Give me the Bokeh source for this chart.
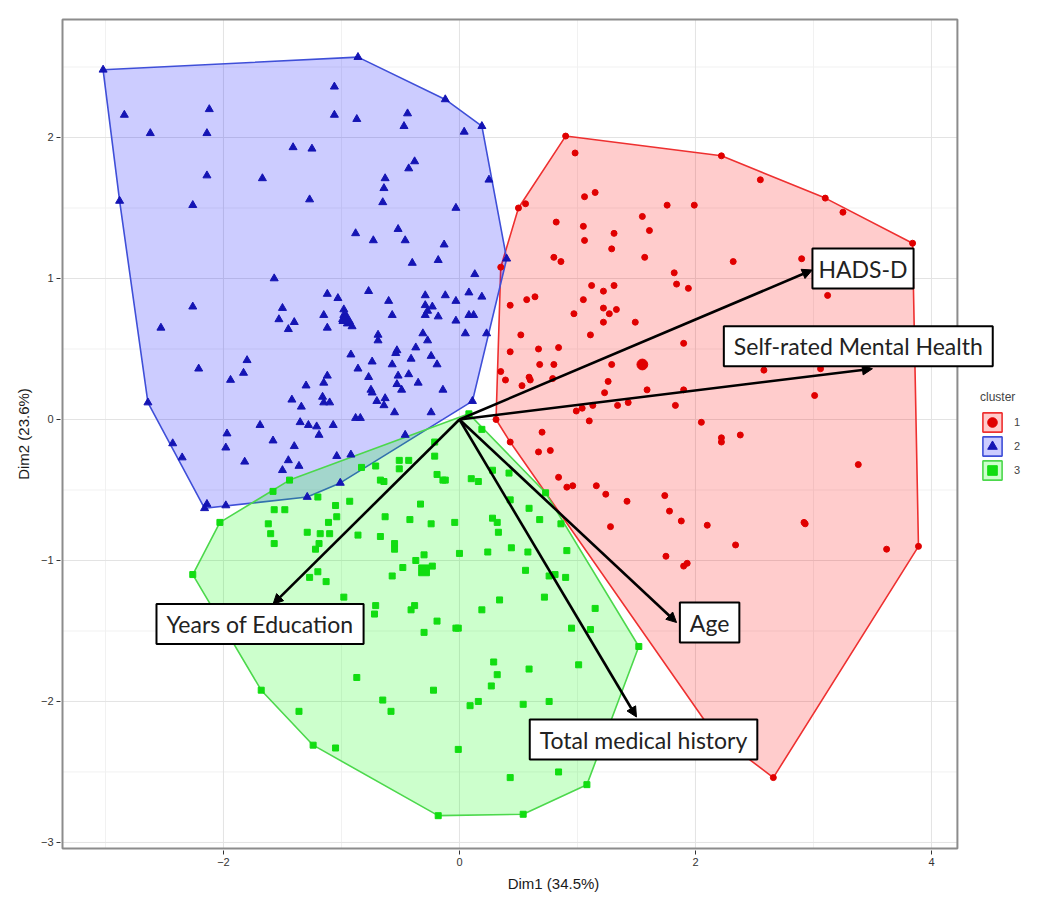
from bokeh.plotting import figure
from bokeh.models import (Arrow, NormalHead, Label, Legend, LegendItem, FixedTicker,
                          Range1d, ColumnDataSource)
from bokeh.embed import file_html
from bokeh.resources import INLINE

# ---------------- data ----------------
cluster1 = [  # red circles
    (0.90, 2.01), (0.98, 1.89), (1.15, 1.61), (1.06, 1.58), (0.56, 1.53), (0.50, 1.50),
    (0.82, 1.40), (1.05, 1.37), (1.55, 1.44), (1.61, 1.34), (1.31, 1.32), (1.06, 1.27),
    (1.29, 1.21), (0.80, 1.15), (0.86, 1.12), (1.57, 1.15), (0.35, 1.08), (1.12, 0.95),
    (1.22, 0.91), (1.31, 0.95), (0.64, 0.87), (0.57, 0.85), (1.05, 0.85),
    (2.22, 1.87), (2.55, 1.70), (3.10, 1.57), (3.25, 1.47), (3.84, 1.25), (1.76, 1.52),
    (1.99, 1.52), (2.32, 1.12), (2.90, 1.14), (1.82, 1.04), (1.84, 0.96), (1.94, 0.93),
    (3.12, 0.88),
    (0.43, 0.81), (0.97, 0.75), (1.22, 0.79), (1.27, 0.75), (1.33, 0.78), (1.22, 0.69),
    (1.49, 0.69), (0.52, 0.60), (1.11, 0.60), (0.67, 0.50), (0.84, 0.51), (0.43, 0.48),
    (0.68, 0.39), (0.80, 0.39), (1.29, 0.39), (0.35, 0.34), (0.39, 0.28), (0.59, 0.30),
    (0.60, 0.28), (0.53, 0.24), (0.79, 0.29), (1.26, 0.27), (1.23, 0.19), (1.59, 0.21),
    (0.99, 0.06), (1.04, 0.08), (1.13, 0.10), (1.34, 0.10), (1.43, 0.12), (1.10, -0.01),
    (0.31, 0.00), (0.70, -0.09), (0.43, -0.16), (0.67, -0.23), (0.77, -0.22), (0.84, -0.41),
    (0.91, -0.48), (0.96, -0.47), (1.16, -0.47), (1.24, -0.53), (1.42, -0.58), (1.28, -0.76),
    (1.90, 0.54), (2.64, 0.61), (2.94, 0.60), (2.77, 0.48), (2.58, 0.35), (3.06, 0.36),
    (1.90, 0.21), (1.83, 0.10), (3.01, 0.17), (2.05, -0.02), (2.22, -0.13), (2.22, -0.16),
    (2.38, -0.11), (3.38, -0.32), (1.74, -0.54), (1.78, -0.65), (1.88, -0.72), (2.10, -0.75),
    (2.92, -0.73), (2.93, -0.74), (2.34, -0.89), (3.62, -0.92), (1.75, -0.97), (1.90, -1.04),
    (1.93, -1.02), (3.89, -0.90), (2.66, -2.54), (2.14, -2.21),
]
cluster2 = [  # blue triangles
    (-3.02, 2.48), (-0.86, 2.57), (-1.06, 2.36), (-2.84, 2.16), (-2.12, 2.20), (-2.62, 2.03),
    (-2.14, 2.03), (-1.06, 2.16), (-0.87, 2.13), (-1.41, 1.93), (-1.25, 1.92), (-2.14, 1.73),
    (-1.67, 1.71), (-2.88, 1.55), (-2.26, 1.52), (-1.27, 1.56), (-0.88, 1.32), (-1.57, 1.00),
    (-1.12, 0.89), (-1.03, 0.86),
    (-0.12, 2.27), (0.19, 2.08), (0.25, 1.70), (0.40, 1.14), (-0.44, 2.17), (-0.47, 2.08),
    (0.04, 2.04), (-0.38, 1.83), (-0.43, 1.78), (-0.63, 1.71), (-0.64, 1.64), (-0.65, 1.54),
    (-0.03, 1.50), (-0.52, 1.35), (-0.73, 1.27), (-0.46, 1.27), (-0.13, 1.24), (-0.40, 1.11),
    (-0.18, 1.13), (0.13, 1.03), (-0.77, 0.91), (-0.29, 0.88), (-0.12, 0.88), (0.08, 0.90),
    (0.19, 0.87), (-0.60, 0.84), (-0.03, 0.84),
    (-2.26, 0.80), (-2.53, 0.65), (-1.50, 0.79), (-1.53, 0.71), (-1.40, 0.69), (-1.45, 0.64),
    (-1.15, 0.74), (-1.12, 0.65), (-0.98, 0.78), (-0.98, 0.74), (-0.97, 0.70), (-0.95, 0.68),
    (-0.91, 0.66), (-0.99, 0.71), (-0.92, 0.46), (-0.86, 0.36), (-1.80, 0.42), (-2.21, 0.36),
    (-1.83, 0.33), (-1.94, 0.28), (-1.12, 0.31), (-1.15, 0.26), (-1.30, 0.24), (-1.42, 0.14),
    (-1.34, 0.09), (-1.16, 0.16), (-1.15, 0.12), (-1.10, 0.12), (-2.64, 0.12), (-0.88, 0.01),
    (-0.84, 0.01), (-1.69, -0.04), (-1.35, -0.02), (-1.28, -0.04), (-1.21, -0.05), (-1.07, -0.04),
    (-1.19, -0.11), (-1.97, -0.10), (-1.98, -0.20), (-1.58, -0.15), (-1.40, -0.19), (-2.43, -0.17),
    (-2.35, -0.27), (-1.82, -0.30), (-1.45, -0.29), (-1.36, -0.33), (-1.50, -0.36), (-1.04, -0.26),
    (-0.92, -0.25), (-1.01, -0.45), (-1.29, -0.55), (-1.98, -0.61), (-2.14, -0.60), (-2.16, -0.63),
    (-0.29, 0.81), (-0.23, 0.80), (-0.27, 0.77), (-0.29, 0.74), (-0.57, 0.74), (-0.18, 0.73),
    (-0.03, 0.70), (0.08, 0.74), (0.12, 0.74), (-0.69, 0.60), (-0.69, 0.56), (-0.31, 0.61),
    (-0.27, 0.56), (0.05, 0.61), (0.23, 0.61), (-0.37, 0.51), (-0.53, 0.49), (-0.54, 0.47),
    (-0.24, 0.45), (-0.41, 0.43), (-0.74, 0.41), (-0.57, 0.39), (-0.19, 0.39), (-0.77, 0.30),
    (-0.52, 0.31), (-0.43, 0.32), (-0.53, 0.25), (-0.49, 0.21), (-0.35, 0.26), (-0.14, 0.21),
    (-0.75, 0.21), (-0.74, 0.19), (-0.70, 0.13), (-0.63, 0.15), (-0.64, 0.10), (-0.55, 0.05),
    (-0.24, 0.05), (0.11, 0.13), (-0.46, -0.11),
]
cluster3 = [  # green squares
    (-1.44, -0.43), (-1.58, -0.51), (-0.83, -0.34), (-1.20, -0.55), (-0.93, -0.58), (-1.05, -0.61),
    (-1.57, -0.64), (-1.48, -0.64), (-1.04, -0.69), (-1.11, -0.73), (-2.03, -0.73), (-1.62, -0.74),
    (-1.60, -0.81), (-1.29, -0.80), (-1.18, -0.81), (-1.10, -0.81), (-0.86, -0.82), (-1.57, -0.88),
    (-1.19, -0.88), (-1.22, -0.92), (-1.20, -1.08), (-1.27, -1.12), (-2.26, -1.10),
    (0.08, 0.04), (0.19, -0.07), (-0.21, -0.16), (-0.21, -0.26), (-0.51, -0.29), (-0.43, -0.29),
    (-0.51, -0.35), (-0.71, -0.33), (0.28, -0.36), (0.42, -0.38), (-0.19, -0.39), (-0.67, -0.43),
    (-0.64, -0.44), (-0.14, -0.43), (-0.12, -0.43), (0.10, -0.42), (0.16, -0.44), (0.73, -0.52),
    (0.43, -0.57), (-0.33, -0.60), (0.59, -0.63), (-0.63, -0.69), (-0.42, -0.71), (-0.04, -0.73),
    (-0.24, -0.74), (0.28, -0.70), (0.32, -0.73), (0.33, -0.80), (0.68, -0.71), (0.86, -0.74),
    (-0.67, -0.83), (-0.55, -0.88), (-0.55, -0.92), (0.44, -0.91), (0.58, -0.94), (0.91, -0.93),
    (0.00, -0.95), (0.24, -0.94), (-0.37, -1.00), (-0.30, -0.96), (-0.23, -1.04), (-0.48, -1.05),
    (-0.57, -1.11), (0.56, -1.07), (0.81, -1.10), (0.90, -1.12), (0.76, -1.11),
    (-1.98, -1.39), (-1.13, -1.15), (-0.98, -1.26), (-1.20, -1.37), (-1.31, -1.48), (-1.29, -1.53),
    (-1.36, -1.57), (-0.87, -1.83), (-1.36, -2.07), (-1.05, -2.33), (-1.68, -1.92), (-1.24, -2.31),
    (-0.71, -1.32), (-0.72, -1.38), (-0.41, -1.35), (-0.38, -1.32), (-0.19, -1.43), (-0.30, -1.51),
    (-0.03, -1.48), (-0.01, -1.48), (0.19, -1.35), (0.34, -1.28), (0.72, -1.26), (1.15, -1.34),
    (0.95, -1.48), (1.11, -1.49), (0.29, -1.72), (0.32, -1.81), (0.27, -1.89), (0.59, -1.77),
    (1.01, -1.74), (-0.22, -1.92), (-0.65, -1.99), (-0.58, -2.07), (0.09, -2.03), (0.16, -2.00),
    (0.54, -2.02), (0.76, -2.00), (-0.01, -2.34), (0.43, -2.54), (0.84, -2.50), (1.08, -2.59),
    (0.54, -2.80), (-0.18, -2.81), (1.52, -1.61),
]
centers_x = [1.55, -0.96, -0.30]
centers_y = [0.39, 0.71, -1.07]
cluster_labels = ["1", "2", "3"]

var_names = ["HADS-D", "Self-rated Mental Health", "Age", "Total medical history", "Years of Education"]
var_x = [2.99, 3.50, 1.84, 1.50, -1.58]
var_y = [1.06, 0.36, -1.44, -2.11, -1.31]

x_ticks = [-2, 0, 2, 4]
x_minor = [-3, -1, 1, 3]
y_ticks = [-3, -2, -1, 0, 1, 2]
y_minor = [-2.5, -1.5, -0.5, 0.5, 1.5, 2.5]

# panel (ggplot plotting area) limits
PX0, PX1, PY0, PY1 = -3.364, 4.22, -3.043, 2.837

# ---------------- helpers ----------------
def convex_hull(points):
    pts = sorted(set(points))
    def cross(o, a, b):
        return (a[0] - o[0]) * (b[1] - o[1]) - (a[1] - o[1]) * (b[0] - o[0])
    lower = []
    for q in pts:
        while len(lower) >= 2 and cross(lower[-2], lower[-1], q) <= 0:
            lower.pop()
        lower.append(q)
    upper = []
    for q in reversed(pts):
        while len(upper) >= 2 and cross(upper[-2], upper[-1], q) <= 0:
            upper.pop()
        upper.append(q)
    h = lower[:-1] + upper[:-1]
    return [q[0] for q in h], [q[1] for q in h]

# ---------------- figure ----------------
p = figure(width=1048, height=905, x_range=Range1d(-3.381, 4.975), y_range=Range1d(-3.057, 2.851),
           output_backend="svg", toolbar_location=None,
           min_border_left=60, min_border_top=17, min_border_right=2, min_border_bottom=55)
p.background_fill_color = "white"
p.border_fill_color = "white"
p.outline_line_color = None
p.xgrid.visible = False
p.ygrid.visible = False

p.xaxis.ticker = FixedTicker(ticks=x_ticks)
p.yaxis.ticker = FixedTicker(ticks=y_ticks)
p.xaxis.axis_label = "Dim1 (34.5%)"
p.yaxis.axis_label = "Dim2 (23.6%)"
for ax in (p.xaxis, p.yaxis):
    ax.axis_line_color = None
    ax.major_tick_line_color = "#333333"
    ax.major_tick_out = 4
    ax.major_tick_in = 0
    ax.minor_tick_line_color = None
    ax.major_label_text_font = "Liberation Sans"
    ax.major_label_text_font_size = "11px"
    ax.major_label_text_color = "#333333"
    ax.axis_label_text_font = "Liberation Sans"
    ax.axis_label_text_font_size = "15px"
    ax.axis_label_text_font_style = "normal"
    ax.axis_label_text_color = "#1a1a1a"
    ax.major_label_standoff = 3
    ax.axis_label_standoff = 6

# grid lines restricted to the panel
p.segment(x0=x_minor, x1=x_minor, y0=PY0, y1=PY1, line_color="#f1f1f1", line_width=1)
p.segment(x0=PX0, x1=PX1, y0=y_minor, y1=y_minor, line_color="#f1f1f1", line_width=1)
p.segment(x0=x_ticks, x1=x_ticks, y0=PY0, y1=PY1, line_color="#e3e3e3", line_width=1)
p.segment(x0=PX0, x1=PX1, y0=y_ticks, y1=y_ticks, line_color="#e3e3e3", line_width=1)

cols = {
    "1": dict(pt="#e00000", line="#ee3030", fill="#ff0000", marker="circle", size=6),
    "2": dict(pt="#1414b4", line="#3f4fd8", fill="#0000ff", marker="triangle", size=8),
    "3": dict(pt="#11dd11", line="#4cd84c", fill="#00ff00", marker="square", size=6),
}

hull_r, pt_r = {}, {}
for lab, pts in zip(cluster_labels, [cluster1, cluster2, cluster3]):
    c = cols[lab]
    hx, hy = convex_hull(pts)
    hull_r[lab] = p.patch(hx, hy, fill_color=c["fill"], fill_alpha=0.2,
                          line_color=c["line"], line_width=1.6)

for lab, pts, cx, cy in zip(cluster_labels, [cluster1, cluster2, cluster3], centers_x, centers_y):
    c = cols[lab]
    pt_r[lab] = p.scatter([q[0] for q in pts], [q[1] for q in pts], marker=c["marker"],
                          size=c["size"], fill_color=c["pt"], line_color=c["pt"])
    p.scatter([cx], [cy], marker=c["marker"], size=c["size"] * 1.8,
              fill_color=c["pt"], line_color=c["pt"])

# panel border
p.quad(left=PX0, right=PX1, bottom=PY0, top=PY1, fill_color=None,
       line_color="#8c8c8c", line_width=2)

# variable arrows
src = ColumnDataSource(dict(x0=[0] * len(var_x), y0=[0] * len(var_y), x1=var_x, y1=var_y))
p.add_layout(Arrow(source=src, x_start="x0", y_start="y0", x_end="x1", y_end="y1",
                   line_color="black", line_width=2.6,
                   end=NormalHead(size=10, fill_color="black", line_color="black")))

# label boxes (placement of the annotation boxes)
label_pos = {
    "HADS-D": (3.42, 1.07),
    "Self-rated Mental Health": (3.38, 0.52),
    "Age": (2.12, -1.44),
    "Total medical history": (1.56, -2.27),
    "Years of Education": (-1.69, -1.45),
}
for name in var_names:
    lx, ly = label_pos[name]
    pad = (6, 6) if name == "HADS-D" else (10, 6)
    p.add_layout(Label(x=lx, y=ly, text=name, text_align="center", text_baseline="middle",
                       text_font="Lato", text_font_size="23px", text_color="#222222",
                       background_fill_color="white", background_fill_alpha=1.0,
                       border_line_color="black", border_line_width=2, padding=pad))

legend = Legend(items=[LegendItem(label=lab, renderers=[hull_r[lab], pt_r[lab]])
                       for lab in cluster_labels],
                title="cluster", location=(920, 368), glyph_width=24, glyph_height=24,
                spacing=0, padding=10, margin=0, label_standoff=10,
                label_text_font="Liberation Sans", label_text_font_size="11px",
                title_text_font="Liberation Sans", title_text_font_size="12px",
                title_text_font_style="normal", title_standoff=6,
                border_line_color=None, background_fill_alpha=0)
p.add_layout(legend, "center")

open("out.html", "w").write(file_html(p, INLINE))
